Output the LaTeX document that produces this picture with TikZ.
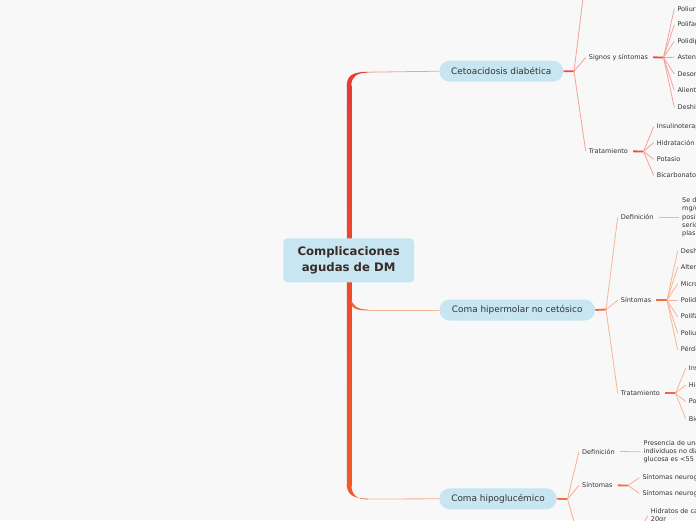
\documentclass[tikz,border=0pt]{standalone}
\usepackage{fontspec}
\setmainfont{DejaVu Sans}
\definecolor{bg}{HTML}{F8F8F8}
\definecolor{nodefill}{HTML}{C7E6F1}
\definecolor{txt}{HTML}{333333}
\definecolor{ctxt}{HTML}{3A2B26}
\definecolor{trunkTop}{HTML}{E73B34}
\definecolor{trunkBot}{HTML}{F15A29}
\definecolor{lA}{HTML}{F5A19A}
\definecolor{fA}{HTML}{EE4E42}
\definecolor{lB}{HTML}{F8B496}
\definecolor{fB}{HTML}{F36A3A}
\definecolor{lC}{HTML}{F8AD8C}
\definecolor{fC}{HTML}{F2703F}
\begin{document}
\begin{tikzpicture}[x=1pt,y=-1pt,
  leaf/.style={anchor=west, inner xsep=3pt, inner ysep=1pt, font=\fontsize{6.5}{8.2}\selectfont, text=txt, align=left},
  pill/.style={rounded corners=10.5pt, fill=nodefill, minimum height=21pt, inner sep=0pt, font=\fontsize{8.9}{10}\selectfont, text=txt},
  thinA/.style={draw=lA, line width=0.8pt},
  thickA/.style={draw=fA, line width=1.8pt},
  thinB/.style={draw=lB, line width=0.8pt},
  thickB/.style={draw=fB, line width=1.8pt},
  thinC/.style={draw=lC, line width=0.8pt},
  thickC/.style={draw=fC, line width=1.8pt}]
\useasboundingbox (0,0) rectangle (696,520);
\fill[bg] (0,0) rectangle (696,520);
\clip (0,0) rectangle (696,520);

% ---- trunk ----
\shade[top color=trunkTop, bottom color=trunkBot] (346.8,85) rectangle (351.3,486);
\fill[trunkTop] (346.8,86) .. controls (346.8,76) and (352,71.8) .. (368,71.8) -- (368,72.6) .. controls (356,72.8) and (351.3,77) .. (351.3,86) -- cycle;
\fill[fB] (351.3,298) .. controls (352,306) and (358,309.6) .. (368,309.6) -- (368,310.4) .. controls (357,310.6) and (351.3,308) .. (351.3,304) -- cycle;
\fill[trunkBot] (346.8,484) .. controls (346.8,494) and (352,498.6) .. (368,498.6) -- (368,499.4) .. controls (356,499.6) and (351.3,494) .. (351.3,484) -- cycle;
\coordinate (t1) at (367,72.2);
\coordinate (t2) at (367,310);
\coordinate (t3) at (367,499);

% ---- central node ----
\node[fill=nodefill, rounded corners=4pt, minimum width=130.7pt, minimum height=44pt, inner sep=0pt,
  font=\fontsize{11.7}{15.5}\selectfont\bfseries, text=ctxt, align=center] (root) at (348.65,260.3)
  {Complicaciones\\agudas de DM};

% ---- main nodes ----
\node[pill, minimum width=124pt] (ceto) at (501.3,71.2) {Cetoacidosis diabética};
\node[pill, minimum width=155.7pt] (hiper) at (517.2,310) {Coma hipermolar no cetósico};
\node[pill, minimum width=117.4pt] (hipo) at (498,498.8) {Coma hipoglucémico};
\draw[thinA] (t1) -- (ceto.west);
\draw[thinB] (t2) -- (hiper.west);
\draw[thinC] (t3) -- (hipo.west);

% ---- Cetoacidosis subtree ----
\coordinate (f1) at (574,71.3);
\draw[thickA] (ceto.east) -- (f1);
\coordinate (cdef) at (584.3,-12);
\draw[thinA] (f1) -- (cdef);
\node[leaf] (signos) at (585.7,57.3) {Signos y síntomas};
\node[leaf] (trat1) at (585.7,151.3) {Tratamiento};
\draw[thinA] (f1) -- (signos.west);
\draw[thinA] (f1) -- (trat1.west);

\coordinate (f1a) at (663.5,57.5);
\draw[thickA, shorten <=2pt] (signos.east) -- (f1a);
\foreach \n/\y/\t in {s1/8.7/Poliuria, s2/24.7/Polifagia, s3/41.3/Polidipsia, s4/57.3/Astenia, s5/74/Desorientación, s6/90.3/Aliento cetónico, s7/107.3/Deshidratación}{
  \node[leaf] (\n) at (674.3,\y) {\t};
  \draw[thinA] (f1a) -- (\n.west);
}
\coordinate (f1b) at (643.5,151.5);
\draw[thickA, shorten <=2pt] (trat1.east) -- (f1b);
\foreach \n/\y/\t in {a1/126.7/Insulinoterapia, a2/142.5/Hidratación, a3/159.3/Potasio, a4/175.3/Bicarbonato}{
  \node[leaf] (\n) at (653.7,\y) {\t};
  \draw[thinA] (f1b) -- (\n.west);
}

% ---- Coma hipermolar subtree ----
\coordinate (f2) at (606,309.5);
\draw[thickB] (hiper.east) -- (f2);
\node[leaf] (def2) at (617.7,217.3) {Definición};
\node[leaf] (sin2) at (617.7,300.3) {Síntomas};
\node[leaf] (trat2) at (617.7,393.3) {Tratamiento};
\draw[thinB] (f2) -- (def2.west);
\draw[thinB] (f2) -- (sin2.west);
\draw[thinB] (f2) -- (trat2.west);

\node[leaf] (deftext2) at (679,217.3) {Se define como glucemia\\mg/dl, osmolaridad\\positiva débil\\serica mayor\\plasmática};
\draw[thinB, shorten <=2pt] (def2.east) -- (deftext2.west);

\coordinate (f2a) at (667,300.3);
\draw[thickB, shorten <=2pt] (sin2.east) -- (f2a);
\foreach \n/\y/\t in {h1/250.7/Deshidratación, h2/267.3/Alteraciones, h3/283.7/Microtrombosis, h4/300.3/Polidipsia, h5/316.8/Polifagia, h6/333.3/Poliuria, h7/350/Pérdida de peso}{
  \node[leaf] (\n) at (677.7,\y) {\t};
  \draw[thinB] (f2a) -- (\n.west);
}
\coordinate (f2b) at (675.5,393.3);
\draw[thickB, shorten <=2pt] (trat2.east) -- (f2b);
\foreach \n/\y/\t in {b1/368.3/Insulina, b2/385/Hidratación, b3/401.5/Potasio, b4/418.7/Bicarbonato}{
  \node[leaf] (\n) at (685.7,\y) {\t};
  \draw[thinB] (f2b) -- (\n.west);
}

% ---- Coma hipoglucemico subtree ----
\coordinate (f3) at (567.5,499);
\draw[thickC] (hipo.east) -- (f3);
\node[leaf] (def3) at (579,451.5) {Definición};
\node[leaf] (sin3) at (579,485.3) {Síntomas};
\coordinate (trat3) at (577,532);
\draw[thinC] (f3) -- (def3.west);
\draw[thinC] (f3) -- (sin3.west);
\draw[thinC] (f3) -- (trat3);

\node[leaf] (deftext3) at (640.5,451.8) {Presencia de una glucemia\\individuos no diabéticos\\glucosa es <55 mg/dl};
\draw[thinC, shorten <=2pt] (def3.east) -- (deftext3.west);

\coordinate (f3a) at (628,485.5);
\draw[thickC, shorten <=2pt] (sin3.east) -- (f3a);
\node[leaf] (n1) at (639.3,477.7) {Síntomas neurogénicos};
\node[leaf] (n2) at (639.3,493.3) {Síntomas neuroglucopénicos};
\draw[thinC] (f3a) -- (n1.west);
\draw[thinC] (f3a) -- (n2.west);

\coordinate (f3b) at (640.5,528);
\node[leaf] (hid) at (647.7,516) {Hidratos de carbono\\20gr};
\draw[thinC] (f3b) -- (hid.west);
\end{tikzpicture}
\end{document}
